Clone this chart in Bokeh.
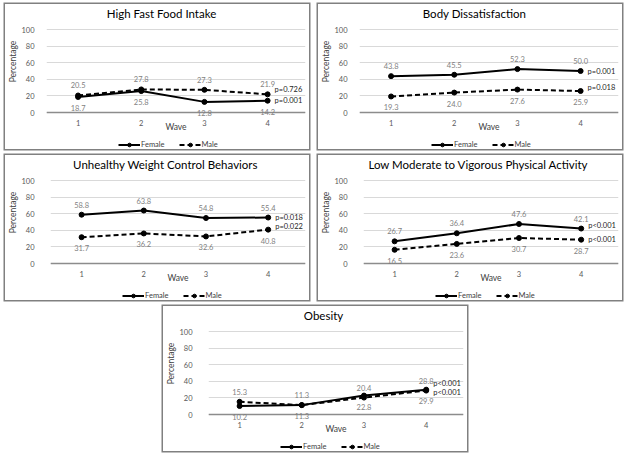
from bokeh.plotting import figure
from bokeh.models import (ColumnDataSource, LabelSet, Label, Legend, LegendItem,
                          FixedTicker, Range1d, Spacer, Span)
from bokeh.layouts import column, row
from bokeh.core.properties import value
from bokeh.embed import file_html
from bokeh.resources import INLINE

# ---------------- data ----------------
waves = [1, 2, 3, 4]
y_ticks = [0, 20, 40, 60, 80, 100]
titles = ["High Fast Food Intake", "Body Dissatisfaction",
          "Unhealthy Weight Control Behaviors",
          "Low Moderate to Vigorous Physical Activity", "Obesity"]
series_names = ["Female", "Male"]

female_fast_food = [18.7, 25.8, 12.8, 14.2]
male_fast_food = [20.5, 27.8, 27.3, 21.9]
female_body_dissat = [43.8, 45.5, 52.3, 50.0]
male_body_dissat = [19.3, 24.0, 27.6, 25.9]
female_uwcb = [58.8, 63.8, 54.8, 55.4]
male_uwcb = [31.7, 36.2, 32.6, 40.8]
female_low_mvpa = [26.7, 36.4, 47.6, 42.1]
male_low_mvpa = [16.5, 23.6, 30.7, 28.7]
female_obesity = [10.2, 11.3, 22.8, 29.9]
male_obesity = [15.3, 11.3, 20.4, 28.8]

female_p = ["p=0.001", "p=0.001", "p=0.018", "p<0.001", "p<0.001"]
male_p = ["p=0.726", "p=0.018", "p=0.022", "p<0.001", "p<0.001"]

female_all = [female_fast_food, female_body_dissat, female_uwcb, female_low_mvpa, female_obesity]
male_all = [male_fast_food, male_body_dissat, male_uwcb, male_low_mvpa, male_obesity]

# ---------------- style / layout (pixels) ----------------
FONT = "Lato"
W = 304                 # panel width
HM, HL = 133, 12        # main figure height, legend strip height
BOTTOM, RIGHT = 19, 4
TOP_GAP = 25            # px from panel top to the 100 line
BELOW_ZERO = 6          # px of frame below the zero line
frame_left = [30, 30, 34, 34, 34]
ytick_standoff = [6, 6, 10, 10, 10]
p_off_f = [0, 0, 0, 3, 6]      # screen px, up positive
p_off_m = [5, 4, 3, 0, -2]
LEGEND_X = 72

FRAME_H = HM - BOTTOM
PX_PER_UNIT = (FRAME_H - TOP_GAP - BELOW_ZERO) / 100.0
Y_TOP = 100 + TOP_GAP / PX_PER_UNIT
Y_BOT = -BELOW_ZERO / PX_PER_UNIT


def make_panel(i):
    fem, mal = female_all[i], male_all[i]
    p = figure(width=W, height=HM, x_range=Range1d(0.5, 4.6), y_range=Range1d(Y_BOT, Y_TOP),
               toolbar_location=None, output_backend="svg", title_location=None,
               min_border_left=frame_left[i], min_border_right=RIGHT,
               min_border_top=0, min_border_bottom=BOTTOM)
    p.outline_line_color = None
    p.xgrid.visible = False
    p.ygrid.grid_line_color = "#d9d9d9"
    p.yaxis.ticker = FixedTicker(ticks=y_ticks)
    p.xaxis.ticker = FixedTicker(ticks=waves)
    for ax in (p.xaxis, p.yaxis):
        ax.major_tick_line_color = None
        ax.minor_tick_line_color = None
        ax.axis_line_color = None
        ax.major_label_text_font = FONT
        ax.major_label_text_font_size = "7.5px"
        ax.major_label_text_color = "#595959"
        ax.axis_label_text_font = FONT
        ax.axis_label_text_font_size = "8.5px"
        ax.axis_label_text_font_style = "normal"
        ax.axis_label_text_color = "#404040"
    p.yaxis.bounds = (0, 100)
    p.yaxis.major_label_standoff = ytick_standoff[i]
    p.yaxis.axis_label = "Percentage"
    p.yaxis.axis_label_standoff = 0
    p.xaxis.major_label_standoff = -5
    p.xaxis.axis_label = "Wave"
    p.xaxis.axis_label_standoff = -7
    p.add_layout(Span(location=0, dimension="width", line_color="#8c8c8c", line_width=1.5))

    p.line(waves, fem, line_color="black", line_width=2)
    p.scatter(waves, fem, size=5, color="black")
    p.line(waves, mal, line_color="black", line_width=2, line_dash="5 3")
    p.scatter(waves, mal, size=5, color="black")

    f_above = sum(fem) > sum(mal)
    for vals, above in ((fem, f_above), (mal, not f_above)):
        src = ColumnDataSource(dict(x=waves, y=vals, t=[f"{v:.1f}" for v in vals]))
        p.add_layout(LabelSet(x="x", y="y", text="t", source=src,
                              y_offset=10 if above else -11,
                              text_align="center", text_baseline="middle",
                              text_font=value(FONT), text_font_size="7.5px",
                              text_color="#7f7f7f"))
    for vals, txt, off in ((fem, female_p[i], p_off_f[i]), (mal, male_p[i], p_off_m[i])):
        src = ColumnDataSource(dict(x=[waves[-1]], y=[vals[-1]], t=[txt]))
        p.add_layout(LabelSet(x="x", y="y", text="t", source=src,
                              x_offset=7, y_offset=off,
                              text_align="left", text_baseline="middle",
                              text_font=value(FONT), text_font_size="7.5px",
                              text_color="#262626"))

    p.add_layout(Label(x=115, y=Y_TOP, x_units="screen", y_units="data", y_offset=-9,
                       text=titles[i], text_align="center", text_baseline="middle",
                       text_font=FONT, text_font_size="11.5px", text_color="black"))

    # legend strip (proxy renderers drawn outside its visible range)
    lf = figure(width=W, height=HL, x_range=Range1d(-2, -1), y_range=Range1d(-2, -1),
                toolbar_location=None, output_backend="svg", title_location=None,
                x_axis_location=None, y_axis_location=None, min_border=0)
    lf.grid.visible = False
    lf.outline_line_color = None
    lr1 = lf.line(waves, fem, line_color="black", line_width=2)
    lc1 = lf.scatter(waves, fem, size=5, color="black")
    lr2 = lf.line(waves, mal, line_color="black", line_width=2, line_dash="5 3")
    lc2 = lf.scatter(waves, mal, size=5, color="black")
    legend = Legend(items=[LegendItem(label=series_names[0], renderers=[lr1, lc1]),
                           LegendItem(label=series_names[1], renderers=[lr2, lc2])],
                    orientation="horizontal", location=(LEGEND_X, 0),
                    label_text_font=FONT, label_text_font_size="7.5px",
                    label_text_color="#404040",
                    glyph_width=22, glyph_height=9, label_height=9,
                    label_standoff=1, spacing=14, padding=1, margin=0,
                    border_line_color=None, background_fill_alpha=0)
    lf.add_layout(legend)

    return column(p, lf, spacing=0,
                  styles={"box-shadow": "0 0 0 1.5px #808080"})


panels = [make_panel(i) for i in range(5)]
grid = column(row(panels[0], panels[1], spacing=9),
              row(panels[2], panels[3], spacing=9),
              row(Spacer(width=158, height=HM + HL), panels[4]),
              spacing=6)
layout = column(Spacer(width=10, height=4),
                row(Spacer(width=5, height=10), grid, spacing=0),
                spacing=0)

open("out.html", "w").write(file_html(layout, INLINE))
